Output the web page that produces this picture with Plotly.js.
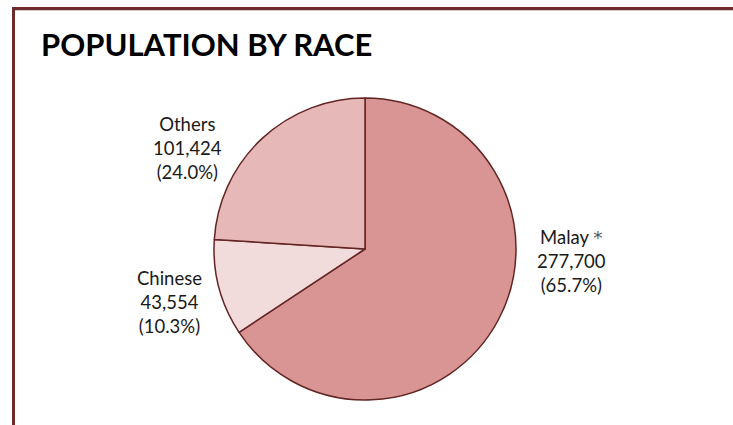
<!DOCTYPE html>
<html>
<head>
<meta charset="utf-8">
<script src="https://cdn.plot.ly/plotly-3.0.1.min.js"></script>
<style>
html,body{margin:0;padding:0;background:#fff;}
#chart{width:733px;height:425px;}
</style>
</head>
<body>
<div id="chart"></div>
<script>
// Data
const categories = ["Malay", "Chinese", "Others"];
const populations = [277700, 43554, 101424];
const labelSuffix = [" <span style='color:#555;font-family:\"DejaVu Sans\"'>*</span>", "", ""];
const sliceColors = ["#d99594", "#f2dcdb", "#e6b8b7"];

const W = 733, H = 425;
const total = populations.reduce((a, b) => a + b, 0);
function fmt(n) { return n.toLocaleString('en-US'); }

// label anchor positions (pixels) - layout only
const labelPos = [[571, 261], [169, 302], [187, 148]];

const annotations = categories.map((c, i) => ({
  xref: 'paper', yref: 'paper',
  x: labelPos[i][0] / W, y: 1 - labelPos[i][1] / H,
  xanchor: 'center', yanchor: 'middle',
  showarrow: false, align: 'center',
  text: c + labelSuffix[i] + '<br>' + fmt(populations[i]) + '<br>(' + (populations[i] / total * 100).toFixed(1) + '%)',
  font: {family: 'Lato, "Open Sans", sans-serif', size: 18.5, color: '#1a1a1a'}
}));

annotations.push({
  xref: 'paper', yref: 'paper',
  x: 39 / W, y: 1 - 44 / H,
  xanchor: 'left', yanchor: 'middle',
  showarrow: false,
  text: '<b>POPULATION BY RACE</b>',
  font: {family: 'Lato, "Open Sans", sans-serif', size: 31, color: '#000'}
});

const cx = 365, cy = 249, r = 151;

const trace = {
  type: 'pie',
  labels: categories,
  values: populations,
  sort: false,
  direction: 'clockwise',
  rotation: 0,
  textinfo: 'none',
  hoverinfo: 'label+value+percent',
  marker: {colors: sliceColors, line: {color: '#632523', width: 1.5}},
  domain: {x: [(cx - r) / W, (cx + r) / W], y: [1 - (cy + r) / H, 1 - (cy - r) / H]},
  showlegend: false
};

const layout = {
  width: W, height: H,
  margin: {l: 0, r: 0, t: 0, b: 0},
  paper_bgcolor: '#fff',
  showlegend: false,
  annotations: annotations,
  shapes: [
    {type: 'line', xref: 'paper', yref: 'paper', x0: 13.5 / W, x1: 1, y0: 1 - 10.5 / H, y1: 1 - 10.5 / H, line: {color: '#d0c8c8', width: 1}},
    {type: 'line', xref: 'paper', yref: 'paper', x0: 12 / W, x1: 1, y0: 1 - 8.5 / H, y1: 1 - 8.5 / H, line: {color: '#6e2b2b', width: 3}},
    {type: 'line', xref: 'paper', yref: 'paper', x0: 13.5 / W, x1: 13.5 / W, y0: 1 - 7 / H, y1: 0, line: {color: '#6e2b2b', width: 3}}
  ]
};

Plotly.newPlot('chart', [trace], layout, {displayModeBar: false, staticPlot: true});
</script>
</body>
</html>
